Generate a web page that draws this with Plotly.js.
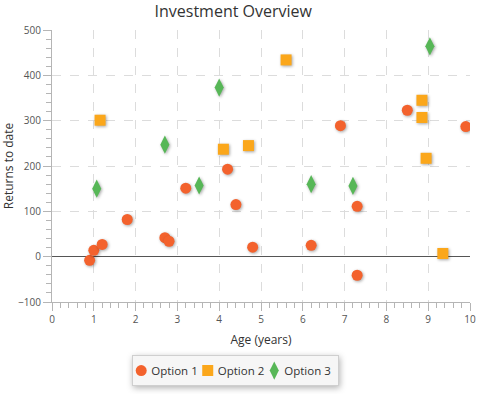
<!DOCTYPE html>
<html>
<head>
<meta charset="utf-8">
<script src="https://cdn.plot.ly/plotly-3.0.1.min.js"></script>
<style>
html,body{margin:0;padding:0;background:#fff;}
#chart{width:491px;height:394px;}
.scatterlayer .points path{filter:drop-shadow(1px 1px 1.5px rgba(0,0,0,0.35));}
.legend .bg{filter:drop-shadow(1px 2px 3px rgba(0,0,0,0.3));}
</style>
</head>
<body>
<div id="chart"></div>
<script>
const title = "Investment Overview";
const xTitle = "Age (years)";
const yTitle = "Returns to date";
const seriesNames = ["Option 1", "Option 2", "Option 3"];

const opt1X = [0.9, 1.0, 1.2, 1.8, 2.7, 2.8, 3.2, 4.2, 4.4, 4.8, 6.2, 6.9, 7.3, 7.3, 8.5, 9.9];
const opt1Y = [-8, 14, 27, 82, 42, 34, 151, 193, 115, 21, 25, 289, 111, -41, 323, 287];

const opt2X = [1.15, 4.1, 4.7, 5.6, 8.85, 8.85, 8.95, 9.35];
const opt2Y = [301, 237, 245, 434, 345, 307, 217, 7];

const opt3X = [1.07, 2.7, 3.52, 4.0, 6.2, 7.2, 9.04];
const opt3Y = [150, 247, 157, 373, 160, 156, 464];

const colors = ["#f3622d", "#fba71b", "#57b757"];
const FONT = "Open Sans, DejaVu Sans, sans-serif";

const traces = [
  {x: opt1X, y: opt1Y, name: seriesNames[0], type: "scatter", mode: "markers",
   marker: {symbol: "circle", size: 11, color: colors[0]}},
  {x: opt2X, y: opt2Y, name: seriesNames[1], type: "scatter", mode: "markers",
   marker: {symbol: "square", size: 11, color: colors[1]}},
  {x: opt3X, y: opt3Y, name: seriesNames[2], type: "scatter", mode: "markers",
   marker: {symbol: "diamond-tall", size: 13, color: colors[2]}}
];

const axisCommon = {
  showline: true, linecolor: "#b5b5b5", linewidth: 1,
  ticks: "outside", ticklen: 8, tickcolor: "#b5b5b5", tickwidth: 1,
  showgrid: true, gridcolor: "#dcdcdc", griddash: "dash", gridwidth: 1,
  tickfont: {family: FONT, size: 10, color: "#555"},
  mirror: false, automargin: false
};

const layout = {
  width: 491, height: 394,
  margin: {l: 52, r: 21, t: 30, b: 92, autoexpand: false},
  paper_bgcolor: "#fff", plot_bgcolor: "#fff",
  font: {family: FONT, color: "#333"},
  title: {text: title, font: {family: FONT, size: 16, color: "#333"},
          x: 0.475, xanchor: "center", y: 0.985, yanchor: "top"},
  showlegend: true,
  legend: {orientation: "h", x: 0.4, xanchor: "center", y: -0.195, yanchor: "top",
           bgcolor: "#f6f6f6", bordercolor: "#cfcfcf", borderwidth: 1,
           font: {family: FONT, size: 11.5, color: "#333"}, itemwidth: 30},
  xaxis: Object.assign({}, axisCommon, {
    range: [0, 10], dtick: 1, tick0: 0, zeroline: false,
    minor: {dtick: 0.2, ticklen: 5, tickcolor: "#b5b5b5", showgrid: false},
    title: {text: xTitle, font: {family: FONT, size: 12, color: "#333"}, standoff: 10}
  }),
  yaxis: Object.assign({}, axisCommon, {
    range: [-100, 500], dtick: 100, tick0: 0,
    zeroline: true, zerolinecolor: "#555", zerolinewidth: 1,
    minor: {dtick: 20, ticklen: 5, tickcolor: "#b5b5b5", showgrid: false},
    title: {text: yTitle, font: {family: FONT, size: 12, color: "#333"}, standoff: 6}
  })
};

const gd = document.getElementById("chart");
Plotly.newPlot(gd, traces, layout, {displayModeBar: false, staticPlot: true}).then(function () {
  // Compact the legend like the JavaFX original: small symbol, short gap, text.
  const leg = gd.querySelector("g.legend");
  if (!leg) return;
  const items = Array.from(leg.querySelectorAll("g.traces"));
  const symGap = 10, itemGap = 10, leftPad = 9, rightPad = 7;
  let cursor = leftPad;
  items.forEach(function (g) {
    const m = /translate\(\s*([-\d.]+)[ ,]+([-\d.]+)\s*\)/.exec(g.getAttribute("transform") || "");
    const ty = m ? parseFloat(m[2]) : 0;
    const t = g.querySelector("text.legendtext");
    g.querySelectorAll(".legendpoints path").forEach(function (p) {
      p.setAttribute("transform", "translate(0,0)");
    });
    if (t) t.setAttribute("x", symGap);
    const w = t ? t.getComputedTextLength() : 40;
    g.setAttribute("transform", "translate(" + cursor + "," + ty + ")");
    cursor += symGap + w + itemGap;
  });
  const totalW = cursor - itemGap + rightPad;
  const bg = leg.querySelector("rect.bg");
  if (bg) bg.setAttribute("width", totalW);
  const lm = /translate\(\s*([-\d.]+)[ ,]+([-\d.]+)\s*\)/.exec(leg.getAttribute("transform") || "");
  const ly = lm ? parseFloat(lm[2]) : 0;
  const centerX = 235;
  leg.setAttribute("transform", "translate(" + (centerX - totalW / 2) + "," + ly + ")");
  const clip = document.querySelector("clipPath[id*='legend'] rect");
  if (clip) clip.setAttribute("width", totalW);
});
</script>
</body>
</html>
